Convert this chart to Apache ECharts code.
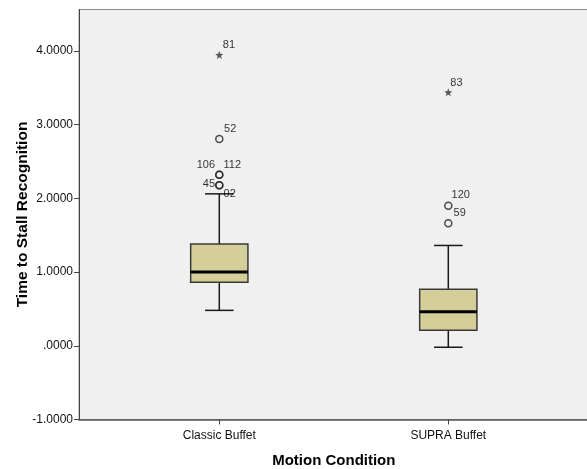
<!DOCTYPE html>
<html>
<head>
<meta charset="utf-8">
<script src="https://cdn.jsdelivr.net/npm/echarts@6/dist/echarts.min.js"></script>
<style>
  html, body { margin: 0; padding: 0; background: #ffffff; }
  #chart { width: 587px; height: 469px; }
</style>
</head>
<body>
<div id="chart"></div>
<script>
// Box summaries per motion condition
const categories = ['Classic Buffet', 'SUPRA Buffet'];
const whiskerLow = [0.48, -0.02];
const quartile1 = [0.86, 0.21];
const medians = [1.00, 0.46];
const quartile3 = [1.38, 0.765];
const whiskerHigh = [2.06, 1.36];

// Outliers (circles) and extremes (stars), with case ids
const outlierGroup = [0, 0, 0, 0, 0, 1, 1];
const outlierValues = [2.805, 2.32, 2.32, 2.176, 2.176, 1.90, 1.66];
const outlierIds = ['52', '106', '112', '45', '02', '120', '59'];
const extremeGroup = [0, 1];
const extremeValues = [3.944, 3.438];
const extremeIds = ['81', '83'];

// Value axis
const yMin = -1;
const yMax = 4.56;
const yStep = 1;

// Label placement for case ids: [side, dx, dy]
const idPlacement = {
  '52': ['right', 0.5, -10],
  '106': ['left', 0, -10],
  '112': ['right', 0, -10],
  '45': ['left', 0, -1],
  '02': ['right', 0, 9],
  '120': ['right', -1, -11],
  '59': ['right', 1, -10],
  '81': ['right', -0.5, -10],
  '83': ['right', -2, -9]
};

const FONT = '"Liberation Sans", Arial, sans-serif';
const TXT = '#111';

function caseLabel(id) {
  const p = idPlacement[id] || ['right', 0, -10];
  return {
    show: true,
    formatter: id,
    position: p[0],
    distance: 0,
    offset: [p[1], p[2]],
    fontFamily: FONT,
    fontSize: 11,
    color: '#000'
  };
}

const boxData = categories.map((c, i) =>
  [i, whiskerLow[i], quartile1[i], medians[i], quartile3[i], whiskerHigh[i]]);

const outlierData = outlierValues.map((v, i) => ({
  value: [outlierGroup[i], v], name: outlierIds[i], label: caseLabel(outlierIds[i])
}));
const extremeData = extremeValues.map((v, i) => ({
  value: [extremeGroup[i], v], name: extremeIds[i], label: caseLabel(extremeIds[i])
}));

const starPath = 'path://M0,-10 L2.6,-3.4 L9.5,-3.1 L4.1,1.3 L5.9,8.1 L0,4.3 L-5.9,8.1 L-4.1,1.3 L-9.5,-3.1 L-2.6,-3.4 Z';

function renderBox(params, api) {
  const idx = api.value(0);
  const band = api.size([1, 0])[0];
  const half = band * 0.125;
  const capHalf = band * 0.0625;
  const x = api.coord([idx, 0])[0];
  const yLow = api.coord([idx, api.value(1)])[1];
  const yQ1 = api.coord([idx, api.value(2)])[1];
  const yMed = api.coord([idx, api.value(3)])[1];
  const yQ3 = api.coord([idx, api.value(4)])[1];
  const yHigh = api.coord([idx, api.value(5)])[1];
  const whisker = { stroke: '#1a1a1a', lineWidth: 1.5 };
  return {
    type: 'group',
    children: [
      { type: 'line', shape: { x1: x, y1: yHigh, x2: x, y2: yQ3 }, style: whisker },
      { type: 'line', shape: { x1: x, y1: yQ1, x2: x, y2: yLow }, style: whisker },
      { type: 'line', shape: { x1: x - capHalf, y1: yHigh, x2: x + capHalf, y2: yHigh }, style: whisker },
      { type: 'line', shape: { x1: x - capHalf, y1: yLow, x2: x + capHalf, y2: yLow }, style: whisker },
      { type: 'rect', shape: { x: x - half, y: yQ3, width: half * 2, height: yQ1 - yQ3 },
        style: { fill: '#d4cf98', stroke: '#3a3a3a', lineWidth: 1.5 } },
      { type: 'line', shape: { x1: x - half, y1: yMed, x2: x + half, y2: yMed },
        style: { stroke: '#000', lineWidth: 3 } }
    ]
  };
}

const chart = echarts.init(document.getElementById('chart'), null, { renderer: 'canvas' });
chart.setOption({
  animation: false,
  backgroundColor: '#ffffff',
  grid: [
    { left: 79, right: -3, top: 9.5, bottom: 49.5, show: true, outerBoundsMode: 'none',
      backgroundColor: '#f0f0f0', borderColor: '#8a8a8a', borderWidth: 1 },
    { left: 104.8, right: 24.2, top: 9.5, bottom: 49.5, outerBoundsMode: 'none' }
  ],
  xAxis: [
    { gridIndex: 0, type: 'value', min: 0, max: 1, position: 'bottom',
      axisLine: { show: true, onZero: false, lineStyle: { color: '#555', width: 1.5 } },
      axisTick: { show: false }, axisLabel: { show: false }, splitLine: { show: false } },
    { gridIndex: 1, type: 'category', data: categories, position: 'bottom',
      axisLine: { show: false, onZero: false },
      axisTick: { show: true, alignWithLabel: true, length: 5, lineStyle: { color: '#444', width: 1 } },
      axisLabel: { margin: 10, fontFamily: FONT, fontSize: 12, color: TXT },
      name: 'Motion Condition', nameLocation: 'middle', nameGap: 34, nameMoveOverlap: false,
      nameTextStyle: { fontFamily: FONT, fontSize: 15, fontWeight: 'bold', color: '#000' } }
  ],
  yAxis: [
    { gridIndex: 0, type: 'value', min: yMin, max: yMax, interval: yStep,
      axisLine: { show: true, onZero: false, lineStyle: { color: '#444', width: 1 } },
      axisTick: { show: true, length: 5, lineStyle: { color: '#444', width: 1 } },
      splitLine: { show: false },
      axisLabel: {
        margin: 6, showMaxLabel: false, fontFamily: FONT, fontSize: 12, color: TXT,
        formatter: v => (Math.abs(v - Math.round(v)) > 1e-6 ? '' : (v === 0 ? '.0000' : v.toFixed(4)))
      },
      name: 'Time to Stall Recognition', nameLocation: 'middle', nameGap: 48, nameMoveOverlap: false,
      nameTextStyle: { fontFamily: FONT, fontSize: 15.5, fontWeight: 'bold', color: '#000' } },
    { gridIndex: 1, type: 'value', min: yMin, max: yMax, interval: yStep, show: false,
      splitLine: { show: false } }
  ],
  series: [
    { type: 'custom', xAxisIndex: 1, yAxisIndex: 1, renderItem: renderBox, data: boxData, z: 2 },
    { type: 'scatter', xAxisIndex: 1, yAxisIndex: 1, data: outlierData,
      symbol: 'circle', symbolSize: 7,
      itemStyle: { color: 'rgba(0,0,0,0)', borderColor: '#222', borderWidth: 1.5 }, z: 3 },
    { type: 'scatter', xAxisIndex: 1, yAxisIndex: 1, data: extremeData,
      symbol: starPath, symbolSize: 8,
      itemStyle: { color: '#333' }, z: 3 }
  ]
});
</script>
</body>
</html>
